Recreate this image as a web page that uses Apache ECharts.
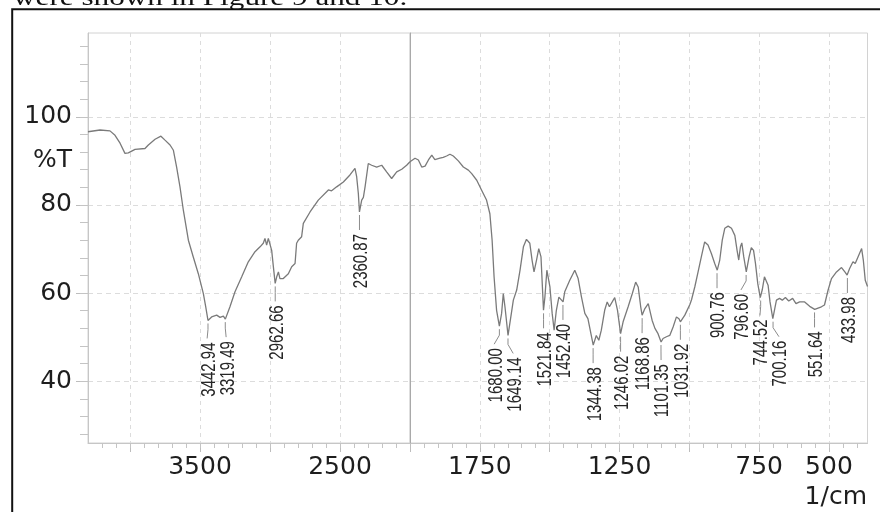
<!DOCTYPE html>
<html><head><meta charset="utf-8">
<script src="https://cdn.jsdelivr.net/npm/echarts@6/dist/echarts.min.js"></script>
<style>html,body{margin:0;padding:0;background:#fff}#c{width:880px;height:512px}</style>
</head><body><div id="c"></div>
<script>
// ---- data ----
const wavenumbers = [4300,4214,4143,4107,4071,4036,4012,3964,3893,3869,3821,3779,3750,3714,3690,3667,3643,3619,3583,3548,3512,3476,3459,3443,3417,3381,3357,3333,3319,3286,3250,3202,3155,3107,3071,3048,3036,3024,3012,3000,2988,2976,2963,2952,2940,2929,2905,2869,2845,2821,2810,2798,2774,2762,2714,2655,2583,2560,2524,2476,2429,2393,2381,2369,2361,2345,2333,2321,2298,2274,2238,2202,2167,2131,2095,2059,2024,2000,
1982,1970,1958,1946,1934,1922,1911,1893,1881,1869,1857,1845,1827,1809,1791,1779,1761,1744,1726,1714,1706,1699,1690,1680,1672,1666,1660,1649,1639,1630,1618,1606,1594,1583,1571,1563,1556,1547,1539,1531,1522,1517,1510,1506,1499,1491,1484,1476,1467,1452,1446,1428,1410,1398,1386,1374,1363,1351,1344,1333,1324,1315,1303,1294,1286,1276,1267,1257,1246,1237,1219,1204,1192,1183,1174,1169,1159,1147,1141,1133,1123,1112,1101,1094,1082,1070,1058,1046,1037,1032,1016,998,992,980,968,956,945,933,921,909,900,891,882,873,861,849,837,829,823,817,812,805,796,786,778,770,763,755,746,739,731,725,718,711,701,694,688,677,667,656,644,630,618,605,587,569,551,527,516,503,491,473,455,443,435,426,414,406,396,391,383,377,370,362];
const transmittance = [96.6,97.0,96.8,95.8,94.0,91.7,91.8,92.6,92.8,93.6,94.9,95.6,94.7,93.6,92.4,88.6,84.1,78.8,72.0,68.2,64.4,59.9,56.9,53.8,54.6,55.0,54.5,54.8,54.1,56.9,60.3,63.7,67.1,69.4,70.5,71.3,72.4,70.9,72.4,72.0,69.7,66.0,62.2,63.7,64.8,63.3,63.3,64.4,66.0,66.7,71.3,72.0,72.8,75.8,78.4,81.1,83.4,83.2,84.1,85.2,86.8,88.3,86.4,82.6,78.4,81.1,81.7,84.1,89.4,89.0,88.6,89.0,87.5,86.0,87.5,88.1,89.0,89.8,
90.6,90.2,88.6,88.8,90.2,91.3,90.3,90.6,90.8,91.1,91.5,91.1,90.0,88.6,87.9,87.1,85.6,83.4,81.1,78.0,72.0,63.7,56.1,52.5,55.4,59.9,56.9,50.4,54.6,58.4,60.7,65.2,70.5,72.2,71.3,67.5,64.8,67.5,70.1,68.2,56.1,59.1,65.2,65.6,61.4,55.4,51.6,56.1,59.1,58.0,60.3,62.9,65.2,63.3,59.1,55.4,54.2,50.4,48.2,50.4,49.3,51.6,56.1,58.0,56.9,58.0,59.0,56.1,50.8,53.5,56.9,59.9,62.5,61.4,56.9,55.0,56.5,57.6,57.3,53.8,52.0,50.8,48.9,49.7,50.1,50.4,52.3,54.6,54.2,53.5,55.0,57.4,58.5,61.5,65.0,68.5,71.6,70.9,69.0,66.7,65.2,67.5,72.0,74.7,75.2,74.7,73.1,69.7,67.5,70.5,71.4,68.2,64.8,68.2,70.3,69.7,66.7,62.2,59.0,60.7,63.7,64.1,61.8,58.0,54.2,56.5,58.4,58.8,58.4,59.0,58.2,58.8,57.6,58.0,58.0,57.0,56.3,56.9,57.3,60.7,63.3,64.8,65.8,64.8,64.1,65.6,67.1,66.7,68.2,67.9,70.1,67.5,62.9,61.5];

const peakWavenumbers = [3442.94,3319.49,2962.66,2360.87,1680.00,1649.14,1521.84,1452.40,1344.38,1246.02,1168.86,1101.35,1031.92,900.76,796.60,744.52,700.16,551.64,433.98];
const peakTransmittance = [53.8,54.1,62.2,78.4,52.5,50.4,56.1,58.0,48.2,50.8,55.0,48.9,53.5,65.2,64.8,59.0,54.2,56.3,64.1];
const peakLabels = ['3442.94','3319.49','2962.66','2360.87','1680.00','1649.14','1521.84','1452.40','1344.38','1246.02','1168.86','1101.35','1031.92','900.76','796.60','744.52','700.16','551.64','433.98'];

const xBreak = 2000;
const xLeftRange = [2000, 4300];
const xRightRange = [362, 2000];
const yRange = [26, 119];
const xMajorLeft = [4000, 3500, 3000, 2500, 2000];
const xLabelsLeft = [3500, 2500];
const xMajorRight = [1750, 1500, 1250, 1000, 750, 500];
const xLabelsRight = [1750, 1250, 750, 500];
const yMajor = [40, 60, 80, 100];
const yLabels = [40, 60, 80, 90, 100];
const yLabelText = {90: '%T'};
const xUnit = '1/cm';
const captionText = 'were shown in Figure 9 and 10.';

// ---- build ----
function steps(a, b, s) { const r = []; for (let v = a; v <= b; v += s) r.push(v); return r; }
const xMinorLeft = steps(2100, 4200, 100);
const xMinorRight = steps(400, 1950, 50);
const yMinor = steps(28, 116, 4);

const leftData = [], rightData = [];
wavenumbers.forEach((w, i) => {
  if (w >= xBreak) leftData.push([w, transmittance[i]]);
  if (w <= xBreak) rightData.push([w, transmittance[i]]);
});

const FONT = 'DejaVu Sans';
const LABEL_COLOR = '#1e1e1e';
const AXIS_COLOR = '#c6c6c6';
const GRID_COLOR = '#dcdcdc';

function layoutShifts(pts, labelLen, minGap) {
  const n = pts.length;
  const xs = pts.map(p => p[0]);
  const order = xs.map((x, i) => i).sort((a, b) => xs[a] - xs[b]);
  for (let it = 0; it < 60; it++) {
    for (let k = 0; k < n - 1; k++) {
      const a = order[k], b = order[k + 1];
      const overlap = Math.abs(pts[a][1] - pts[b][1]) < labelLen;
      const dx = xs[b] - xs[a];
      if (overlap && dx < minGap) {
        const d = (minGap - dx) / 2;
        xs[a] -= d; xs[b] += d;
      }
    }
  }
  return xs.map((x, i) => x - pts[i][0]);
}

function peakSeries(xIdx, yIdx, test) {
  const items = [];
  peakWavenumbers.forEach((w, i) => { if (test(w)) items.push({w: w, t: peakTransmittance[i], label: peakLabels[i]}); });
  return {
    type: 'custom', xAxisIndex: xIdx, yAxisIndex: yIdx, silent: true, clip: false, z: 5,
    data: items.map(d => [d.w, d.t]),
    renderItem: function (params, api) {
      const pts = items.map(d => api.coord([d.w, d.t]));
      const shifts = layoutShifts(pts, 56, 19);
      const i = params.dataIndex;
      const p = pts[i];
      const lx = p[0] + shifts[i];
      return {
        type: 'group',
        children: [
          {type: 'polyline', shape: {points: [[p[0], p[1] + 3], [p[0], p[1] + 9], [lx, p[1] + 18]]},
           style: {stroke: '#8c8c8c', lineWidth: 1, fill: null}},
          {type: 'text', x: lx + 2, y: p[1] + 22, rotation: Math.PI / 2, scaleY: 1.3,
           style: {text: items[i].label, fontFamily: 'Liberation Sans', fontSize: 15, fill: '#262626',
                   align: 'right', verticalAlign: 'middle'}}
        ]
      };
    }
  };
}

const gridBox = {top: 33, height: 410};
const chart = echarts.init(document.getElementById('c'), null, {renderer: 'canvas'});

function mainX(gridIndex, range, majors, labels) {
  return {
    type: 'value', gridIndex: gridIndex, min: range[0], max: range[1], inverse: true, position: 'bottom',
    axisLine: {show: true, lineStyle: {color: AXIS_COLOR, width: 1}},
    axisTick: {show: true, customValues: majors, length: 9, lineStyle: {color: '#bdbdbd'}},
    axisLabel: {show: true, customValues: labels, margin: 12, fontFamily: FONT, fontSize: 25, color: LABEL_COLOR,
                formatter: v => String(v)},
    splitLine: {show: true, lineStyle: {color: GRID_COLOR, type: [4, 4], width: 1}}
  };
}
function minorX(gridIndex, range, minors) {
  return {
    type: 'value', gridIndex: gridIndex, min: range[0], max: range[1], inverse: true, position: 'bottom',
    axisLine: {show: false}, axisLabel: {show: false}, splitLine: {show: false},
    axisTick: {show: true, customValues: minors, length: 5, lineStyle: {color: '#c4c4c4'}}
  };
}

chart.setOption({
  animation: false,
  backgroundColor: '#ffffff',
  grid: [
    {left: 88, width: 322, top: gridBox.top, height: gridBox.height, show: true, borderColor: '#d2d2d2', borderWidth: 1, backgroundColor: 'transparent', containLabel: false, outerBoundsMode: 'none'},
    {left: 410, width: 457.5, top: gridBox.top, height: gridBox.height, show: true, borderColor: '#d2d2d2', borderWidth: 1, backgroundColor: 'transparent', containLabel: false, outerBoundsMode: 'none'}
  ],
  xAxis: [
    mainX(0, xLeftRange, xMajorLeft, xLabelsLeft),
    mainX(1, xRightRange, xMajorRight, xLabelsRight),
    minorX(0, xLeftRange, xMinorLeft),
    minorX(1, xRightRange, xMinorRight)
  ],
  yAxis: [
    {type: 'value', gridIndex: 0, min: yRange[0], max: yRange[1], position: 'left',
     axisLine: {show: true, lineStyle: {color: AXIS_COLOR}},
     axisTick: {show: true, customValues: yMajor, length: 12, lineStyle: {color: '#bdbdbd'}},
     axisLabel: {show: true, customValues: yLabels, margin: 16, fontFamily: FONT, fontSize: 25, color: LABEL_COLOR,
                 formatter: v => (yLabelText[v] !== undefined ? yLabelText[v] : String(v))},
     splitLine: {show: true, lineStyle: {color: GRID_COLOR, type: [5, 4], width: 1}}},
    {type: 'value', gridIndex: 1, min: yRange[0], max: yRange[1], position: 'left',
     axisLine: {show: true, lineStyle: {color: '#a9a9a9', width: 1}},
     axisTick: {show: false, customValues: yMajor},
     axisLabel: {show: false},
     splitLine: {show: true, lineStyle: {color: GRID_COLOR, type: [5, 4], width: 1}}},
    {type: 'value', gridIndex: 0, min: yRange[0], max: yRange[1], position: 'left',
     axisLine: {show: false}, axisLabel: {show: false}, splitLine: {show: false},
     axisTick: {show: true, customValues: yMinor, length: 8, lineStyle: {color: '#c4c4c4'}}}
  ],
  series: [
    {type: 'line', xAxisIndex: 0, yAxisIndex: 0, data: leftData, showSymbol: false, symbol: 'none', smooth: false,
     lineStyle: {color: '#7a7a7a', width: 1.3}, silent: true, z: 3},
    {type: 'line', xAxisIndex: 1, yAxisIndex: 1, data: rightData, showSymbol: false, symbol: 'none', smooth: false,
     lineStyle: {color: '#7a7a7a', width: 1.3}, silent: true, z: 3},
    peakSeries(0, 0, w => w >= xBreak),
    peakSeries(1, 1, w => w < xBreak)
  ],
  graphic: [
    {type: 'rect', shape: {x: 12.2, y: 9.3, width: 1000, height: 1000}, style: {fill: null, stroke: '#111', lineWidth: 2}, silent: true, z: 100},
    {type: 'text', x: 13, y: -1, scaleX: 1.3, style: {text: captionText, fontFamily: 'Liberation Serif', fontSize: 24, fill: '#111', verticalAlign: 'middle', align: 'left'}, silent: true, z: 100},
    {type: 'text', right: 13, top: 485, style: {text: xUnit, fontFamily: FONT, fontSize: 25, fill: LABEL_COLOR}, silent: true, z: 100}
  ]
});
</script></body></html>
